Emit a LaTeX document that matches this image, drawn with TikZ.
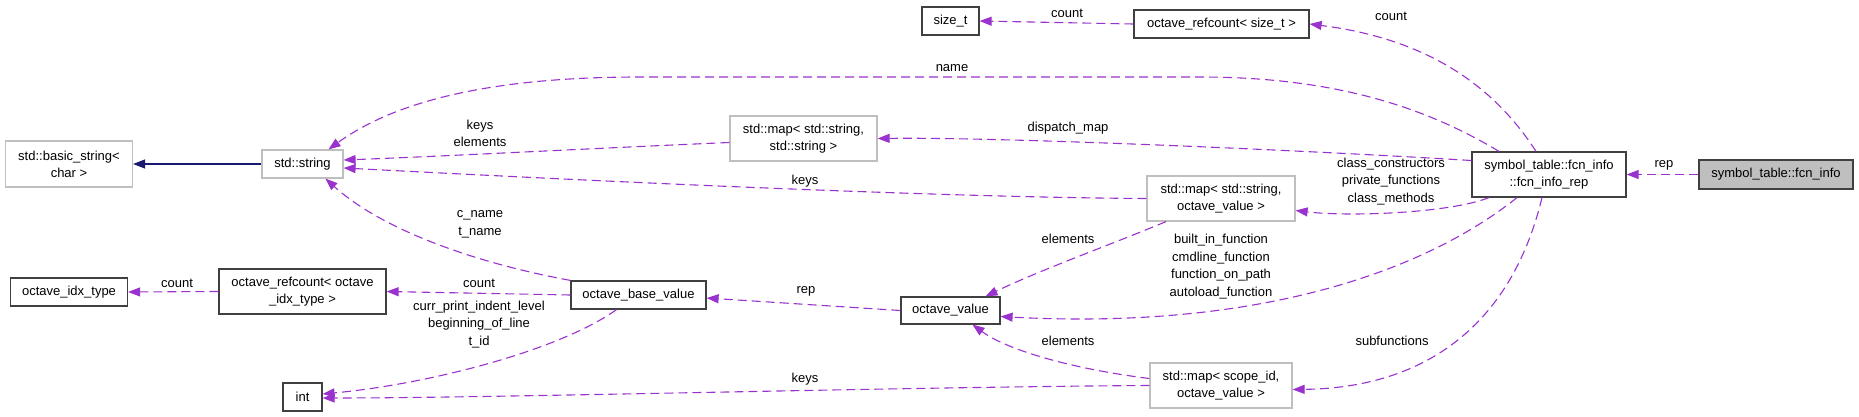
\documentclass[tikz,border=0pt]{standalone}
\usepackage{fontspec}
\setmainfont{Liberation Sans}
\usetikzlibrary{arrows.meta}

\definecolor{edgepurple}{HTML}{9A32CD}
\definecolor{inhblue}{HTML}{191970}
\definecolor{boxgray}{HTML}{BFBFBF}
\definecolor{boxdark}{HTML}{404040}

\tikzset{
    cls/.style={draw=boxdark, line width=1.2pt, fill=white, align=center, inner sep=0pt,
        font=\fontsize{13}{17}\selectfont},
    extcls/.style={cls, draw=boxgray},
    focuscls/.style={cls, fill=boxgray},
    uses/.style={edgepurple, line width=1.1pt, dash pattern=on 9pt off 5pt,
        -{Triangle[length=12pt, width=9pt]}},
    inherits/.style={inhblue, line width=1.1pt, -{Triangle[length=12pt, width=9pt]}},
    lbl/.style={font=\fontsize{13}{17.5}\selectfont, align=center, inner sep=0pt}
}

\begin{document}
\begin{tikzpicture}[x=1pt, y=-1pt]
    \useasboundingbox (0,0) rectangle (1859,417);

    \node[extcls, minimum width=127pt, minimum height=46pt] (basicstr) at (69,164) {std::basic\_string<\\char >};
    \node[extcls, minimum width=81pt, minimum height=28pt] (stdstr) at (302.5,164) {std::string};
    \node[cls, minimum width=117pt, minimum height=28pt] (idxtype) at (69,292) {octave\_idx\_type};
    \node[cls, minimum width=167pt, minimum height=45pt] (refidx) at (302.5,291.5) {octave\_refcount< octave\\\_idx\_type >};
    \node[cls, minimum width=39pt, minimum height=28pt] (inttype) at (302.5,397) {int};
    \node[cls, minimum width=135pt, minimum height=28pt] (basevalue) at (638.5,295) {octave\_base\_value};
    \node[extcls, minimum width=147pt, minimum height=45pt] (mapstrstr) at (803.5,138.5) {std::map< std::string,\\std::string >};
    \node[cls, minimum width=57pt, minimum height=28pt] (sizet) at (950.5,21) {size\_t};
    \node[cls, minimum width=175pt, minimum height=28pt] (refsize) at (1221.5,24) {octave\_refcount< size\_t >};
    \node[extcls, minimum width=148pt, minimum height=45pt] (mapstrval) at (1221,198.5) {std::map< std::string,\\octave\_value >};
    \node[cls, minimum width=99pt, minimum height=27pt] (ovalue) at (950.5,310.5) {octave\_value};
    \node[extcls, minimum width=142pt, minimum height=45pt] (mapscope) at (1221,385.5) {std::map< scope\_id,\\octave\_value >};
    \node[cls, minimum width=154pt, minimum height=45pt] (fcnrep) at (1549,174.5) {symbol\_table::fcn\_info\\::fcn\_info\_rep};
    \node[focuscls, minimum width=154pt, minimum height=29pt] (fcninfo) at (1776,174.5) {symbol\_table::fcn\_info};

    \draw[inherits] (stdstr.west) -- (basicstr.east);

    \draw[uses] (refidx.west) -- (idxtype.east);
    \draw[uses] (basevalue.west) -- (refidx.east);
    \draw[uses] ([xshift=-22pt]basevalue.south) .. controls (560,350) and (430,384) .. ([yshift=3pt]inttype.east);
    \draw[uses] (mapscope.west) .. controls (900,387) and (500,398) .. ([yshift=-1pt]inttype.east);
    \draw[uses] (basevalue.north west) .. controls (470,262) and (380,228) .. ([xshift=23pt]stdstr.south);
    \draw[uses] ([yshift=-4pt]mapstrstr.west) .. controls (600,148) and (450,156) .. ([yshift=4pt]stdstr.east);
    \draw[uses] (mapstrval.west) .. controls (900,197) and (500,176) .. ([yshift=-4pt]stdstr.east);
    \draw[uses] ([xshift=-50pt]fcnrep.north) .. controls (1430,110) and (1340,77) .. (1200,77)
        -- (640,77) .. controls (480,77) and (390,105) .. ([xshift=26pt]stdstr.north);
    \draw[uses] ([yshift=14pt]fcnrep.west) .. controls (1300,150) and (1000,137) .. (mapstrstr.east);
    \draw[uses] ([xshift=-13pt]fcnrep.north) .. controls (1490,80) and (1420,38) .. (refsize.east);
    \draw[uses] (refsize.west) -- (sizet.east);
    \draw[uses] ([xshift=-60pt]fcnrep.south) .. controls (1450,213) and (1350,217) .. ([yshift=-12pt]mapstrval.east);
    \draw[uses] ([xshift=-32pt]fcnrep.south) .. controls (1420,275) and (1250,330) .. ([yshift=-6pt]ovalue.east);
    \draw[uses] ([xshift=-7pt]fcnrep.south) .. controls (1510,330) and (1420,388) .. ([yshift=-4pt]mapscope.east);
    \draw[uses] ([xshift=-55pt]mapstrval.south) .. controls (1110,245) and (1040,270) .. ([xshift=35pt]ovalue.north);
    \draw[uses] ([yshift=7pt]mapscope.west) .. controls (1080,370) and (1010,352) .. ([xshift=22pt]ovalue.south);
    \draw[uses] (ovalue.west) -- ([yshift=-3pt]basevalue.east);
    \draw[uses] (fcninfo.west) -- (fcnrep.east);

    \node[lbl] (lcountidx) at (177,283) {count};
    \node[lbl] (lcountbase) at (479,283) {count};
    \node[lbl] (lintvars) at (479,324.5) {curr\_print\_indent\_level\\beginning\_of\_line\\t\_id};
    \node[lbl] (lkeysint) at (805,379) {keys};
    \node[lbl] (lnames) at (480,224.5) {c\_name\\t\_name};
    \node[lbl] (lkeyselem) at (480,133.5) {keys\\elements};
    \node[lbl] (lkeysstr) at (805,181) {keys};
    \node[lbl] (lname) at (952,68) {name};
    \node[lbl] (ldispatch) at (1068,128) {dispatch\_map};
    \node[lbl] (lcountrep) at (1391,16) {count};
    \node[lbl] (lcountsize) at (1067,13) {count};
    \node[lbl] (lclass) at (1391,181.5) {class\_constructors\\private\_functions\\class\_methods};
    \node[lbl] (lbuiltin) at (1221,266.5) {built\_in\_function\\cmdline\_function\\function\_on\_path\\autoload\_function};
    \node[lbl] (lsubfcn) at (1392,341) {subfunctions};
    \node[lbl] (lelemup) at (1068,239) {elements};
    \node[lbl] (lelemdown) at (1068,341) {elements};
    \node[lbl] (lrepbase) at (806,291) {rep};
    \node[lbl] (lrepinfo) at (1664,165) {rep};
\end{tikzpicture}
\end{document}
